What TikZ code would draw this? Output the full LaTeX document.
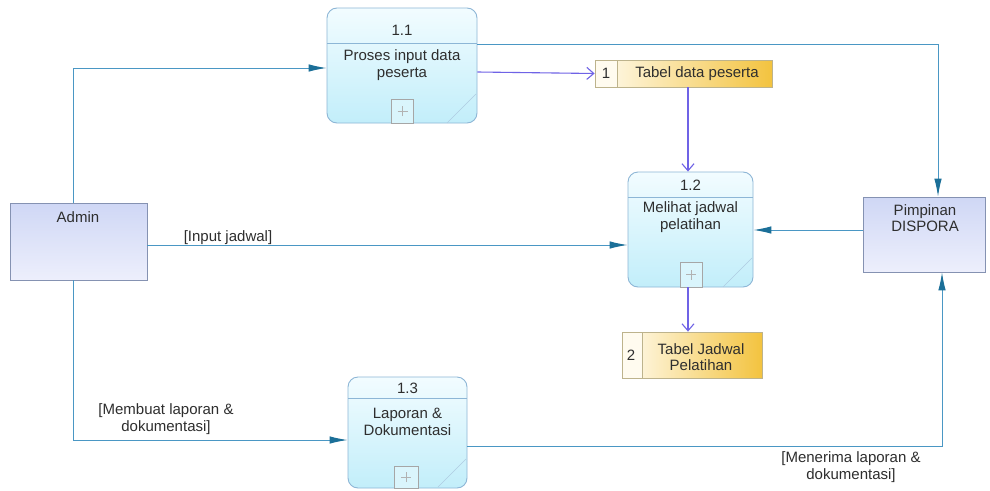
\documentclass[tikz,border=0pt]{standalone}
\usepackage{fontspec}
\setmainfont{Liberation Sans}
\usetikzlibrary{arrows.meta}

\definecolor{flowline}{HTML}{4A97C4}
\definecolor{flowhead}{HTML}{1B6F98}
\definecolor{dsline}{HTML}{6F63E6}
\definecolor{procborder}{HTML}{8DB6D6}
\definecolor{proctop}{HTML}{F2FCFF}
\definecolor{procbot}{HTML}{C2EEFA}
\definecolor{entborder}{HTML}{8592B2}
\definecolor{enttop}{HTML}{CFD7F5}
\definecolor{entbot}{HTML}{EDEFFC}
\definecolor{dsborder}{HTML}{BDB38C}
\definecolor{dsgold}{HTML}{F3C33F}
\definecolor{dslight}{HTML}{FFFBEF}
\definecolor{txt}{HTML}{2E2E2E}

\tikzset{
  proc/.style={draw=procborder, line width=0.9pt, rounded corners=10pt,
    top color=proctop, bottom color=procbot, inner sep=0pt},
  procline/.style={draw=procborder, line width=0.8pt},
  corner/.style={draw=procborder!70, line width=0.6pt},
  plusbox/.style={draw=black!35, line width=0.6pt, fill=white!40!procbot, inner sep=0pt},
  plussign/.style={draw=black!30, line width=0.6pt},
  entity/.style={draw=entborder, line width=0.9pt, top color=enttop, bottom color=entbot, inner sep=0pt},
  store/.style={draw=dsborder, line width=0.8pt, left color=dslight, right color=dsgold, inner sep=0pt},
  storeline/.style={draw=dsborder, line width=0.8pt},
  flow/.style={draw=flowline, line width=1pt, -{Latex[length=18pt,width=7.5pt,fill=flowhead,color=flowhead]}},
  dsflow/.style={draw=dsline, line width=1.1pt, -{Straight Barb[length=7pt,width=12pt,line width=1.1pt]}},
  lbl/.style={text=txt, inner sep=0pt, align=center},
}

\begin{document}
\begin{tikzpicture}[x=1pt, y=-1pt, font=\fontsize{15}{16.5}\selectfont]
\useasboundingbox (0,0) rectangle (990,490);
\fill[white] (0,0) rectangle (990,490);

% ---- external entities
\node[entity, minimum width=137pt, minimum height=77pt] (admin) at (78.5,241.5) {};
\node[lbl] (admintxt) at (78,217) {Admin};
\node[entity, minimum width=122pt, minimum height=75pt] (pim) at (924,234.5) {};
\node[lbl] (pimtxt) at (925,218) {Pimpinan\\DISPORA};

% ---- process 1.1
\node[proc, minimum width=150pt, minimum height=115pt] (p11) at (402,65.5) {};
\draw[procline] (327,43) -- (477,43);
\draw[corner] (476,94) -- (447,123);
\node[lbl] (p11n) at (402,30) {1.1};
\node[lbl] (p11t) at (402,65) {Proses input data\\peserta};
\node[plusbox, minimum width=22pt, minimum height=24pt] (p11x) at (402.5,111) {};
\draw[plussign] ([xshift=-5pt]p11x.center) -- ([xshift=5pt]p11x.center)
                ([yshift=-5pt]p11x.center) -- ([yshift=5pt]p11x.center);

% ---- process 1.2
\node[proc, minimum width=125pt, minimum height=115pt] (p12) at (690.5,229.5) {};
\draw[procline] (628,197) -- (753,197);
\draw[corner] (752,258) -- (723,287);
\node[lbl] (p12n) at (690.5,185) {1.2};
\node[lbl] (p12t) at (690.5,217) {Melihat jadwal\\pelatihan};
\node[plusbox, minimum width=22pt, minimum height=25pt] (p12x) at (691,274.5) {};
\draw[plussign] ([xshift=-5pt]p12x.center) -- ([xshift=5pt]p12x.center)
                ([yshift=-5pt]p12x.center) -- ([yshift=5pt]p12x.center);

% ---- process 1.3
\node[proc, minimum width=119pt, minimum height=111pt] (p13) at (407.5,432.5) {};
\draw[procline] (348,398) -- (467,398);
\draw[corner] (466,459) -- (438,487);
\node[lbl] (p13n) at (407.5,388) {1.3};
\node[lbl] (p13t) at (407.5,422) {Laporan \&\\Dokumentasi};
\node[plusbox, minimum width=24pt, minimum height=22pt] (p13x) at (406,477) {};
\draw[plussign] ([xshift=-5pt]p13x.center) -- ([xshift=5pt]p13x.center)
                ([yshift=-5pt]p13x.center) -- ([yshift=5pt]p13x.center);

% ---- data stores
\node[store, minimum width=177pt, minimum height=27pt] (ds1) at (683.5,73.5) {};
\fill[dslight] (595.5,60.5) rectangle (617,86.5);
\draw[storeline] (617,60) -- (617,87);
\node[lbl] (ds1n) at (606,73.5) {1};
\node[lbl] (ds1t) at (697,73.5) {Tabel data peserta};

\node[store, minimum width=140pt, minimum height=46pt] (ds2) at (692,355) {};
\fill[dslight] (622.5,332.5) rectangle (642,377.5);
\draw[storeline] (642,332) -- (642,378);
\node[lbl] (ds2n) at (631,355) {2};
\node[lbl] (ds2t) at (701,357) {Tabel Jadwal\\Pelatihan};

% ---- data flows
\draw[flow] ([xshift=-5.5pt]admin.north) |- ([yshift=-2.5pt]p11.west);
\draw[flow] ([yshift=21.5pt]p11.east) -| ([xshift=14pt]pim.north);
\draw[dsflow] ([yshift=-6.5pt]p11.east) -- (ds1.west);
\coordinate (c4) at ([xshift=4.5pt]ds1.south);
\draw[dsflow] (c4) -- (c4 |- p12.north);

\coordinate (c5) at ([yshift=-3.5pt]admin.east);
\draw[flow] (c5) -- (c5 -| p12.west);
\node[lbl] (l5) at (228,238) {[Input jadwal]};

\coordinate (c6) at ([yshift=4.5pt]pim.west);
\draw[flow] (c6) -- (c6 -| p12.east);

\coordinate (c7) at ([xshift=-2.5pt]p12.south);
\draw[dsflow] (c7) -- (c7 |- ds2.north);

\draw[flow] ([xshift=-5.5pt]admin.south) |- ([yshift=-7.5pt]p13.west);
\node[lbl] (l8) at (166,419) {[Membuat laporan \&\\dokumentasi]};

\draw[flow] ([yshift=-13.5pt]p13.east) -| ([xshift=18pt]pim.south);
\node[lbl] (l9) at (851,467) {[Menerima laporan \&\\dokumentasi]};
\end{tikzpicture}
\end{document}
